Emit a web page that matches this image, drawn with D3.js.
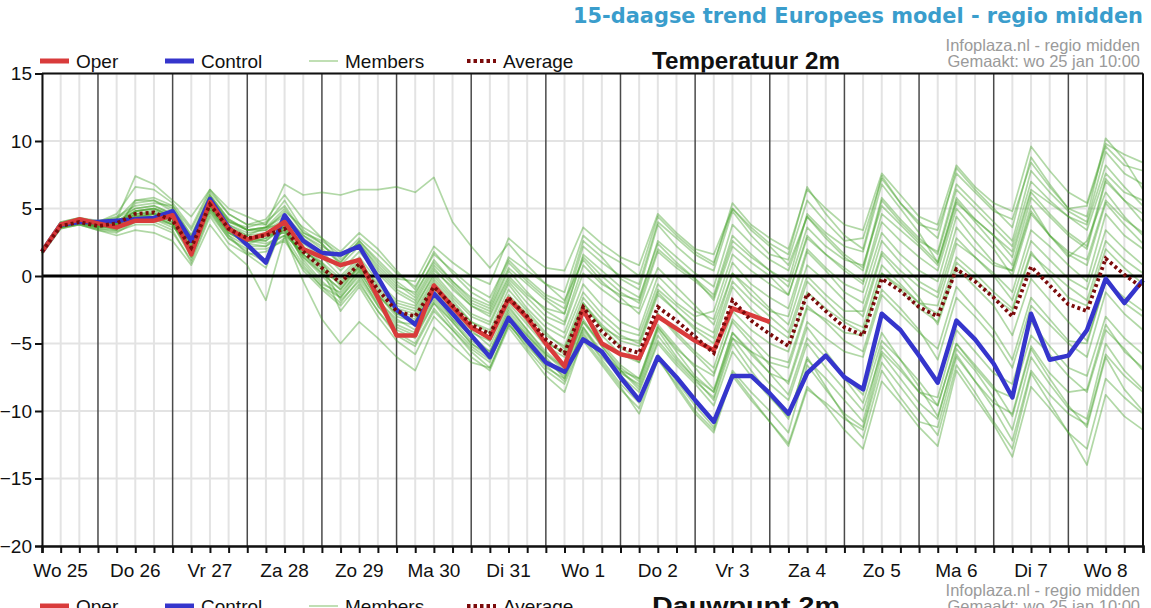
<!DOCTYPE html>
<html>
<head>
<meta charset="utf-8">
<script src="https://cdn.jsdelivr.net/npm/d3@7"></script>
<style>
  body { margin: 0; background: #fff; }
  svg { display: block; font-family: "Liberation Sans", Arial, sans-serif; }
</style>
</head>
<body>
<svg id="chart" width="1151" height="608"></svg>
<script>
// Day labels (one per day, centred on 12:00) and y ticks
const days = ["Wo 25", "Do 26", "Vr 27", "Za 28", "Zo 29", "Ma 30", "Di 31", "Wo 1",
  "Do 2", "Vr 3", "Za 4", "Zo 5", "Ma 6", "Di 7", "Wo 8"];
const yTicks = [15, 10, 5, 0, -5, -10, -15, -20];

// 6-hourly values, starting Wo 25 06:00 (each row = 06, 12, 18, 00)
const oper = [
  1.8, 3.8, 4.2, 3.9,   3.6, 4.1, 4.1, 4.5,   1.6, 5.5, 3.5, 2.7,
  3.1, 4.0, 2.0, 1.4,   0.8, 1.2, -1.6, -4.4, -4.4, -0.7, -2.3, -3.8,
  -4.6, -1.7, -3.1, -5.0, -6.7, -2.5, -5.0, -5.8, -6.1, -3.0, -3.9, -4.8,
  -5.5, -2.4, -2.9, -3.4
];
const control = [
  1.8, 3.8, 4.0, 4.0,   4.1, 4.2, 4.3, 4.8,   2.6, 5.7, 3.6, 2.3,
  1.0, 4.5, 2.6, 1.7,   1.6, 2.2, -0.1, -2.5, -3.6, -1.3, -2.8, -4.4,
  -6.0, -3.1, -4.8, -6.4, -7.1, -4.7, -5.6, -7.5, -9.2, -6.0, -7.5, -9.2,
  -10.8, -7.4, -7.4, -8.7, -10.2, -7.2, -5.9, -7.5, -8.4, -2.8, -4.0, -5.9,
  -7.9, -3.3, -4.7, -6.5, -9.0, -2.8, -6.2, -5.9, -4.0, -0.2, -2.0, -0.3
];
const average = [
  1.8, 3.7, 4.0, 3.7,   3.9, 4.6, 4.7, 4.1,   2.1, 5.3, 3.5, 2.8,
  3.0, 3.5, 1.8, 0.6,   -0.5, 0.9, -1.0, -2.6, -3.0, -0.8, -2.2, -3.6,
  -4.3, -1.6, -3.0, -4.7, -5.7, -2.3, -4.1, -5.3, -5.7, -2.3, -3.3, -4.5,
  -5.7, -1.8, -3.3, -4.3, -5.2, -1.3, -2.6, -3.8, -4.4, -0.2, -1.1, -2.3,
  -3.0, 0.5, -0.4, -1.6, -3.0, 0.7, -0.7, -2.1, -2.6, 1.3, 0.1, -0.9
];

// Ensemble members (same 6-hourly steps)
const members = [
  [1.8,3.7,4.1,3.8, 3.8,4.5,4.4,3.9, 1.8,5.2,3.2,2.4, 2.2,3.4,1.2,-0.4, -1.6,0.2,-2.2,-4.0,
   -4.6,-2.0,-3.8,-5.2, -6.2,-3.4,-5.4,-7.0, -8.0,-4.8,-6.6,-8.4, -9.8,-6.0,-8.2,-10.2,
   -11.6,-7.4,-9.2,-10.8, -12.4,-8.2,-9.6,-11.4, -12.8,-7.8,-9.4,-11.2, -12.6,-7.0,-9.0,-11.0,
   -13.4,-8.2,-9.8,-11.6, -12.8,-7.6,-9.0,-10.2],
  [1.9,3.9,4.2,3.9, 3.6,5.4,5.6,4.8, 2.8,5.9,4.1,3.4, 3.6,4.4,3.0,2.2, 1.4,2.8,1.6,0.2,
   -0.8,1.6,0.4,-0.8, -1.6,1.2,-0.2,-1.4, -2.0,2.6,1.4,-0.2, -1.0,3.8,2.2,1.0,
   0.4,4.8,3.0,1.6, 1.2,5.6,4.0,2.6, 2.8,7.2,5.4,3.8, 3.4,7.6,6.2,4.8,
   4.2,8.4,6.6,5.0, 5.2,9.6,8.2,7.8],
  [1.7,3.6,3.9,3.6, 3.5,4.2,4.6,4.4, 1.4,5.0,3.2,2.6, 3.0,3.2,1.4,0.2, -1.0,0.6,-1.4,-2.8,
   -3.2,-0.6,-2.4,-3.6, -4.8,-1.8,-3.2,-5.0, -5.6,-2.0,-3.6,-4.8, -5.2,-1.4,-2.6,-4.0,
   -5.0,-0.8,-2.4,-3.6, -4.6,-0.4,-1.8,-3.2, -3.8,0.8,-0.6,-2.0, -2.8,1.4,0.2,-1.2,
   -2.4,1.8,0.0,-1.6, -2.2,2.0,0.6,-0.6],
  [1.8,3.8,4.1,4.0, 4.2,7.4,6.8,5.6, 4.4,6.4,5.0,4.4, 3.8,6.8,6.0,6.2, 6.0,6.4,6.4,6.6,
   6.2,7.3,4.0,2.2, 0.6,2.4,0.8,-0.6, -1.8,1.2,-0.4,-1.6, -2.8,0.6,-0.8,-2.2,
   -3.6,0.2,-1.4,-2.6, -3.0,1.8,0.4,-1.2, -2.0,2.6,1.0,-0.4, -1.2,3.6,2.0,0.8,
   0.4,5.2,3.0,1.4, 2.6,6.2,4.4,3.0],
  [1.6,3.5,3.8,3.4, 3.2,4.0,4.2,3.6, 2.6,4.8,3.0,1.6, 0.6,4.0,2.0,0.8, -1.8,-0.4,-2.6,-4.4,
   -5.2,-2.6,-4.0,-5.6, -6.8,-3.6,-5.0,-6.4, -7.4,-4.0,-5.8,-7.0, -8.2,-4.4,-6.2,-7.6,
   -8.6,-4.6,-6.4,-8.0, -9.2,-5.0,-6.8,-8.4, -10.0,-5.6,-7.0,-8.6, -9.6,-5.0,-6.6,-8.2,
   -10.4,-5.4,-7.6,-9.6, -11.2,-6.0,-8.4,-10.0],
  [2.0,4.0,4.3,4.1, 4.3,5.0,5.2,4.6, 2.8,5.8,4.0,3.6, 4.0,5.2,3.2,2.6, 1.6,2.4,0.8,-0.6,
   -1.6,0.8,-0.6,-2.0, -2.6,0.4,-1.2,-2.6, -3.4,0.8,-0.6,-1.4, -1.8,2.6,1.4,0.2,
   -0.8,3.8,2.4,1.2, 0.4,4.4,3.0,1.6, 0.6,5.8,4.2,2.8, 1.6,6.4,5.0,3.6,
   2.2,7.0,5.6,4.4, 3.8,8.2,6.6,5.2],
  [1.8,3.8,4.0,3.7, 3.9,4.8,4.9,4.4, 2.2,5.4,3.6,2.8, 2.6,3.8,1.0,-0.6, -1.2,0.4,-1.8,-3.4,
   -3.6,-1.2,-3.2,-4.8, -5.6,-2.6,-4.2,-6.0, -7.6,-4.2,-6.2,-8.0, -9.4,-5.8,-7.8,-9.6,
   -11.2,-7.2,-9.0,-10.8, -12.6,-8.4,-9.4,-10.6, -11.4,-6.4,-8.2,-10.0, -11.8,-6.6,-8.6,-10.8,
   -12.8,-7.2,-9.4,-11.6, -14.0,-8.8,-10.4,-11.4],
  [1.8,3.7,4.0,3.8, 3.7,4.4,4.4,3.8, 1.6,5.2,3.4,2.6, 2.4,3.0,1.8,1.0, -0.2,1.2,-0.8,-2.2,
   -2.6,-0.2,-1.8,-3.4, -4.0,-1.0,-2.6,-4.2, -5.4,-2.0,-3.8,-5.2, -6.4,-2.8,-4.2,-5.6,
   -6.8,-2.6,-4.0,-5.0, -5.6,-1.2,-2.4,-3.4, -4.2,0.2,-1.0,-2.4, -3.4,1.0,-0.2,-1.6,
   -2.6,1.6,0.4,-0.8, -1.8,2.6,1.2,0.2],
  [1.9,3.9,4.1,3.8, 3.4,5.6,5.6,5.0, 3.0,6.0,4.2,3.4, 3.4,4.8,3.6,2.8, 1.8,3.2,2.0,0.4,
   -1.0,1.8,0.2,-1.2, -2.0,1.4,0.4,-0.6, -1.2,3.0,1.8,1.0, 0.0,4.4,3.0,1.8,
   1.0,5.0,3.6,2.4, 1.6,6.6,4.6,3.0, 2.0,7.4,5.4,4.0, 2.8,8.0,6.4,5.0,
   3.6,8.8,6.8,5.0, 4.4,10.2,8.6,6.4],
  [1.7,3.6,3.9,3.7, 3.6,4.2,4.0,3.4, 1.0,4.4,2.4,1.6, 1.8,2.8,0.4,-1.0, -2.2,-0.6,-2.6,-4.2,
   -5.0,-2.4,-4.0,-5.4, -6.4,-3.2,-5.0,-6.8, -7.6,-3.8,-5.8,-7.2, -8.0,-4.0,-6.0,-7.6,
   -9.2,-5.0,-7.0,-8.8, -10.6,-6.0,-8.2,-10.4, -12.0,-7.0,-9.0,-10.8, -11.2,-6.0,-7.8,-9.4,
   -10.2,-5.2,-7.2,-8.6, -8.4,-3.6,-5.6,-6.8],
  [1.8,3.8,4.1,3.9, 4.1,4.8,5.0,4.4, 2.4,5.6,3.8,3.0, 3.2,3.6,2.0,0.8, -0.4,1.0,-0.6,-2.0,
   -2.4,0.2,-1.4,-2.8, -3.4,-0.4,-2.0,-3.4, -4.2,-0.6,-2.2,-3.4, -4.0,0.0,-1.4,-2.6,
   -3.2,1.0,-0.6,-1.6, -2.4,2.0,0.6,-0.6, -1.2,3.2,1.6,0.4, -0.4,4.4,2.6,1.0,
   0.4,4.8,3.0,1.8, 1.2,5.6,4.2,3.2],
  [1.8,3.7,3.9,3.5, 3.4,4.0,4.2,3.8, 1.8,5.0,3.2,2.4, 2.8,3.4,1.4,0.0, -1.4,0.4,-1.8,-3.2,
   -4.0,-1.6,-3.2,-4.4, -5.6,-2.4,-4.0,-5.8, -6.8,-3.2,-5.2,-6.8, -7.8,-3.8,-5.6,-7.4,
   -8.6,-4.2,-5.8,-7.2, -7.8,-3.4,-4.6,-5.6, -6.0,-1.4,-2.8,-4.2, -5.4,-0.8,-2.4,-4.0,
   -6.2,-1.6,-3.2,-4.8, -5.0,-0.4,-1.6,-2.6],
  [1.9,3.9,4.2,4.0, 4.4,5.2,5.4,5.2, 3.4,6.2,4.6,3.8, 3.8,5.6,3.4,2.4, 0.8,2.2,0.4,-1.0,
   -1.8,0.6,-1.0,-2.2, -2.8,0.0,-1.4,-2.4, -2.8,1.6,0.4,-0.8, -1.6,2.4,1.0,-0.2,
   -1.4,3.0,1.6,0.4, -0.4,4.6,3.2,2.2, 1.8,6.8,5.0,3.2, 1.0,5.6,4.0,2.4,
   0.8,5.8,4.4,3.0, 2.0,7.0,5.6,4.6],
  [1.7,3.6,3.9,3.6, 3.8,4.6,4.6,4.0, 2.0,5.0,3.0,2.2, 2.2,3.0,0.8,-0.8, -2.0,-0.2,-2.2,-3.8,
   -4.4,-2.0,-3.4,-5.0, -6.0,-3.0,-4.4,-5.8, -7.0,-3.4,-5.0,-6.6, -7.6,-3.6,-5.2,-6.8,
   -8.4,-4.2,-5.6,-7.2, -8.8,-4.6,-6.0,-7.6, -9.4,-4.8,-6.2,-7.8, -9.6,-5.0,-6.8,-8.4,
   -9.0,-4.4,-5.8,-7.4, -8.6,-4.0,-5.4,-7.0],
  [1.8,3.8,4.0,3.8, 3.8,4.8,5.0,4.4, 2.0,5.4,3.4,2.6, 2.8,4.0,2.2,1.0, -0.8,0.8,-1.2,-2.6,
   -3.0,-0.6,-2.4,-3.8, -4.6,-1.6,-3.4,-4.8, -5.8,-2.2,-3.8,-4.6, -4.8,-1.0,-2.2,-3.4,
   -4.2,0.2,-1.0,-2.4, -3.6,0.8,-0.4,-1.8, -3.0,1.6,0.0,-1.6, -3.6,0.6,-0.8,-2.2,
   -4.4,-0.2,-1.8,-3.4, -4.8,-0.4,-2.0,-3.0],
  [1.8,3.7,4.0,3.7, 3.9,4.4,4.6,4.2, 2.2,5.2,3.6,2.8, 3.0,3.2,1.6,0.4, -0.6,0.6,-1.4,-2.8,
   -3.4,-0.8,-2.6,-4.0, -5.2,-2.2,-4.0,-5.6, -6.8,-3.4,-5.2,-7.0, -8.4,-4.8,-6.4,-7.8,
   -9.0,-4.6,-5.6,-6.4, -6.8,-2.4,-3.2,-4.2, -4.4,0.2,-0.8,-2.0, -2.2,2.4,1.4,0.2,
   -1.2,3.4,2.2,0.8, -0.4,4.6,3.0,2.0],
  [1.8,3.9,4.2,3.9, 4.0,5.0,5.2,4.6, 2.6,5.6,3.8,3.2, 3.4,4.2,2.8,1.8, 0.4,1.8,0.2,-1.2,
   -2.0,0.4,-0.8,-2.2, -3.0,-0.2,-1.6,-3.0, -3.6,0.2,-1.0,-2.0, -2.4,1.8,0.6,-0.4,
   -1.6,2.6,1.4,0.4, -0.8,3.6,2.2,1.2, 0.8,5.2,3.8,2.4, 1.0,5.8,4.2,3.0,
   1.4,6.2,4.6,3.2, 2.2,7.2,5.6,4.0],
  [1.7,3.7,4.0,3.6, 3.6,4.2,4.4,3.8, 1.4,4.8,2.8,1.8, 1.0,3.8,2.0,0.6, -2.6,-0.8,-3.0,-4.8,
   -5.8,-3.0,-4.4,-6.0, -7.0,-3.8,-5.6,-7.4, -8.6,-4.6,-6.4,-8.2, -10.2,-6.2,-8.0,-10.0,
   -11.4,-7.0,-8.6,-10.0, -11.6,-6.6,-8.4,-10.2, -11.2,-5.8,-7.6,-9.4, -10.6,-5.4,-7.0,-9.0,
   -11.4,-6.0,-8.0,-9.8, -10.6,-5.0,-7.0,-8.4],
  [1.8,3.7,4.0,3.8, 3.8,4.6,4.8,4.4, 2.4,5.4,3.6,3.0, 3.6,3.8,2.4,1.4, 0.0,1.4,-0.4,-1.8,
   -2.2,0.0,-1.6,-3.0, -3.6,-0.6,-2.4,-3.8, -4.6,-1.2,-2.8,-4.0, -4.4,-0.6,-2.0,-3.0,
   -2.6,1.6,0.4,-0.6, -1.4,2.8,1.6,0.4, -0.6,4.0,2.6,1.4, 0.4,5.0,3.4,2.0,
   0.0,4.6,3.0,1.6, 0.8,5.4,3.8,2.4],
  [1.9,4.0,4.3,4.0, 4.2,5.6,5.8,5.2, 3.0,6.0,4.2,3.4, 3.6,5.0,3.2,2.4, 1.0,2.6,1.0,-0.4,
   -1.4,1.2,-0.4,-1.6, -2.2,1.0,-0.4,-1.6, -2.4,2.2,1.0,0.0, -0.6,4.0,2.8,1.6,
   0.8,5.4,3.8,2.8, 2.0,6.4,5.0,3.8, 3.4,7.6,6.0,4.4, 3.8,8.2,6.6,5.4,
   4.8,9.6,7.8,6.2, 5.4,9.8,9.0,8.4],
  [1.7,3.6,3.8,3.5, 3.3,3.8,3.8,3.2, 1.2,4.6,2.8,2.0, 2.0,2.6,0.6,-0.8, -1.6,0.0,-2.0,-3.6,
   -4.2,-1.8,-3.4,-5.0, -5.8,-2.8,-4.4,-6.2, -7.2,-3.8,-5.6,-7.0, -7.6,-3.8,-5.4,-6.6,
   -7.4,-3.2,-4.6,-6.0, -6.4,-2.2,-3.4,-4.8, -5.6,-1.0,-2.4,-4.0, -6.2,-1.6,-3.0,-4.6,
   -6.8,-2.2,-3.6,-5.0, -6.0,-1.2,-2.8,-4.0],
  [1.8,3.8,4.0,3.7, 3.7,4.4,4.6,4.0, 1.8,5.2,3.4,2.6, 3.0,3.4,1.6,0.6, -0.6,1.0,-1.0,-2.4,
   -2.8,-0.4,-2.0,-3.4, -4.2,-1.4,-2.8,-4.4, -5.2,-1.6,-3.2,-4.4, -5.0,-1.2,-2.6,-3.8,
   -4.6,-0.4,-1.8,-3.0, -4.2,0.0,-1.4,-2.6, -2.6,1.8,0.4,-0.8, -1.6,2.8,1.4,0.0,
   -1.8,2.6,1.2,-0.2, -1.0,3.4,2.0,0.8],
  [1.8,3.7,4.0,3.7, 3.9,4.6,4.7,4.2, 2.0,5.2,3.4,2.6, 2.6,3.6,1.6,0.2, -1.0,0.8,-1.4,-3.0,
   -3.4,-1.0,-2.8,-4.2, -4.8,-2.0,-3.6,-5.2, -6.0,-2.8,-4.4,-5.8, -6.4,-2.8,-4.4,-5.8,
   -7.2,-3.4,-5.0,-6.6, -8.0,-3.8,-5.6,-7.4, -8.8,-4.2,-6.2,-8.2, -10.4,-5.8,-7.8,-9.8,
   -12.2,-7.0,-8.8,-10.2, -11.0,-5.8,-7.4,-8.6],
  [1.9,3.9,4.2,4.0, 4.6,6.6,6.4,5.4, 3.6,6.4,4.6,3.8, 4.2,6.0,4.2,2.8, 1.2,2.4,0.6,-0.8,
   -1.2,1.0,-0.4,-1.8, -2.4,0.6,-0.6,-1.8, -2.8,1.4,0.0,-1.2, -2.0,2.0,0.8,-0.2,
   -1.8,2.2,1.0,0.0, -1.4,3.0,1.6,0.6, -0.4,4.6,3.4,2.2, 0.8,5.4,4.2,3.0,
   1.8,6.4,5.4,4.4, 3.4,7.6,6.2,5.6],
  [1.7,3.5,3.8,3.4, 3.0,3.4,3.2,2.6, 0.8,3.8,2.0,0.8, -1.8,3.0,-0.4,-3.2, -5.0,-3.4,-4.6,-6.0,
   -7.0,-3.8,-5.2,-6.4, -6.8,-3.6,-5.2,-6.6, -7.8,-4.4,-6.0,-7.4, -8.6,-5.0,-6.6,-8.0,
   -9.6,-5.6,-7.4,-9.0, -10.4,-6.2,-7.6,-9.2, -10.8,-5.2,-6.8,-8.6, -9.0,-4.0,-5.6,-7.2,
   -8.0,-3.4,-5.2,-6.8, -7.4,-3.0,-4.6,-5.8],
  [1.8,3.8,4.1,3.9, 3.9,4.8,5.0,4.6, 2.6,5.8,4.0,3.4, 3.6,4.6,3.0,2.0, 1.0,2.6,1.2,-0.2,
   -0.4,2.2,1.0,0.0, -0.6,2.8,1.6,0.6, 0.4,3.6,2.4,1.4, 0.8,4.6,3.2,2.0,
   1.6,5.0,3.4,2.2, 0.8,4.4,2.8,1.4, 0.4,5.6,4.0,2.6, 1.8,6.8,5.4,4.0,
   2.6,7.8,6.2,4.8, 4.0,9.2,7.6,6.8]
];

const svg = d3.select("#chart");
const margin = { left: 42, right: 1143, top: 73.5, bottom: 546 };
const nSteps = control.length;

const x = d3.scaleLinear().domain([0, nSteps - 1]).range([margin.left, margin.right]);
const y = d3.scaleLinear().domain([-20, 15]).range([margin.bottom, margin.top]);

// Header: legend, chart name and source lines (drawn again for the next chart below)
function drawHeader(g, name) {
  const legend = [
    { label: "Oper", x: 40, color: "#d93b3b", width: 5, dash: null, opacity: 1 },
    { label: "Control", x: 165, color: "#3535cc", width: 5, dash: null, opacity: 1 },
    { label: "Members", x: 309, color: "#5aab3a", width: 1.5, dash: null, opacity: 0.5 },
    { label: "Average", x: 467, color: "#7b0b0b", width: 4, dash: "3.5,3", opacity: 1 }
  ];
  legend.forEach(d => {
    g.append("line")
      .attr("x1", d.x).attr("x2", d.x + 29)
      .attr("y1", 61).attr("y2", 61)
      .attr("stroke", d.color)
      .attr("stroke-width", d.width)
      .attr("stroke-opacity", d.opacity)
      .attr("stroke-dasharray", d.dash);
    g.append("text")
      .attr("x", d.x + 36).attr("y", 61).attr("dy", "0.36em")
      .style("font-size", "19px").style("fill", "#111")
      .text(d.label);
  });

  g.append("text")
    .attr("x", 652).attr("y", 61).attr("dy", "0.36em")
    .attr("textLength", 188).attr("lengthAdjust", "spacingAndGlyphs")
    .style("font-size", "23px").style("font-weight", "bold").style("fill", "#111")
    .text(name);

  g.append("text")
    .attr("x", 1140).attr("y", 45).attr("dy", "0.35em")
    .attr("text-anchor", "end")
    .style("font-size", "16.5px").style("fill", "#9a9a9a")
    .text("Infoplaza.nl - regio midden");
  g.append("text")
    .attr("x", 1140).attr("y", 61).attr("dy", "0.35em")
    .attr("text-anchor", "end")
    .style("font-size", "16.5px").style("fill", "#9a9a9a")
    .text("Gemaakt: wo 25 jan 10:00");
}

// Page title
svg.append("text")
  .attr("x", 1143).attr("y", 15).attr("dy", "0.36em")
  .attr("text-anchor", "end")
  .attr("textLength", 570).attr("lengthAdjust", "spacingAndGlyphs")
  .style("font-family", "'DejaVu Sans', Verdana, sans-serif")
  .style("font-size", "21px").style("font-weight", "bold").style("fill", "#3a9dcc")
  .text("15-daagse trend Europees model - regio midden");

drawHeader(svg.append("g"), "Temperatuur 2m");
// the next chart on the page starts just below, only its header peeks in
drawHeader(svg.append("g").attr("transform", "translate(0,545)"), "Dauwpunt 2m");

// Grid
const grid = svg.append("g");
grid.selectAll(".hgrid")
  .data(yTicks)
  .enter().append("line")
  .attr("x1", margin.left).attr("x2", margin.right)
  .attr("y1", d => y(d)).attr("y2", d => y(d))
  .attr("stroke", "#e3e3e3").attr("stroke-width", 2);

const steps = d3.range(nSteps);
grid.selectAll(".vgrid")
  .data(steps.filter(i => i % 4 !== 3))
  .enter().append("line")
  .attr("x1", d => x(d)).attr("x2", d => x(d))
  .attr("y1", margin.top).attr("y2", margin.bottom)
  .attr("stroke", "#e3e3e3").attr("stroke-width", 2);

grid.selectAll(".daygrid")
  .data(steps.filter(i => i % 4 === 3))
  .enter().append("line")
  .attr("x1", d => x(d)).attr("x2", d => x(d))
  .attr("y1", margin.top).attr("y2", margin.bottom)
  .attr("stroke", "#4a4a4a").attr("stroke-width", 1.5);

// Series
const line = d3.line()
  .x((d, i) => x(i))
  .y(d => y(d));

const plot = svg.append("g");
plot.selectAll(".member")
  .data(members)
  .enter().append("path")
  .attr("d", line)
  .attr("fill", "none")
  .attr("stroke", "#45a32a")
  .attr("stroke-opacity", 0.42)
  .attr("stroke-width", 1.7)
  .attr("stroke-linejoin", "round");

// Zero line
plot.append("line")
  .attr("x1", margin.left).attr("x2", margin.right)
  .attr("y1", y(0)).attr("y2", y(0))
  .attr("stroke", "#000").attr("stroke-width", 3);

plot.append("path")
  .datum(control)
  .attr("d", line)
  .attr("fill", "none")
  .attr("stroke", "#3535cc")
  .attr("stroke-width", 4.5)
  .attr("stroke-linejoin", "round");

plot.append("path")
  .datum(oper)
  .attr("d", line)
  .attr("fill", "none")
  .attr("stroke", "#d93b3b")
  .attr("stroke-width", 4.5)
  .attr("stroke-linejoin", "round");

plot.append("path")
  .datum(average)
  .attr("d", line)
  .attr("fill", "none")
  .attr("stroke", "#7b0b0b")
  .attr("stroke-width", 3.8)
  .attr("stroke-dasharray", "3,3");

// Frame
svg.append("line")
  .attr("x1", margin.left).attr("x2", margin.right)
  .attr("y1", margin.top).attr("y2", margin.top)
  .attr("stroke", "#111").attr("stroke-width", 2);
svg.append("line")
  .attr("x1", margin.right).attr("x2", margin.right)
  .attr("y1", margin.top).attr("y2", margin.bottom)
  .attr("stroke", "#111").attr("stroke-width", 2);

// Axes
const yAxis = d3.axisLeft(y).tickValues(yTicks).tickSize(7).tickPadding(3);
const gy = svg.append("g")
  .attr("transform", `translate(${margin.left},0)`)
  .call(yAxis);
gy.select(".domain").attr("stroke", "#111").attr("stroke-width", 2);
gy.selectAll(".tick line").attr("stroke", "#111").attr("stroke-width", 2);
gy.selectAll(".tick text")
  .style("font-family", "'Liberation Sans', Arial, sans-serif")
  .style("font-size", "19px").style("fill", "#111");

const xAxis = d3.axisBottom(x).tickValues(steps).tickSize(7).tickFormat("");
const gx = svg.append("g")
  .attr("transform", `translate(0,${margin.bottom})`)
  .call(xAxis);
gx.select(".domain").attr("stroke", "#111").attr("stroke-width", 2.5);
gx.selectAll(".tick line").attr("stroke", "#111").attr("stroke-width", 2);

svg.append("g").selectAll(".daylabel")
  .data(days)
  .enter().append("text")
  .attr("x", (d, k) => x(4 * k + 1))
  .attr("y", 570).attr("dy", "0.36em")
  .attr("text-anchor", "middle")
  .style("font-size", "19px").style("fill", "#111")
  .text(d => d);
</script>
</body>
</html>
